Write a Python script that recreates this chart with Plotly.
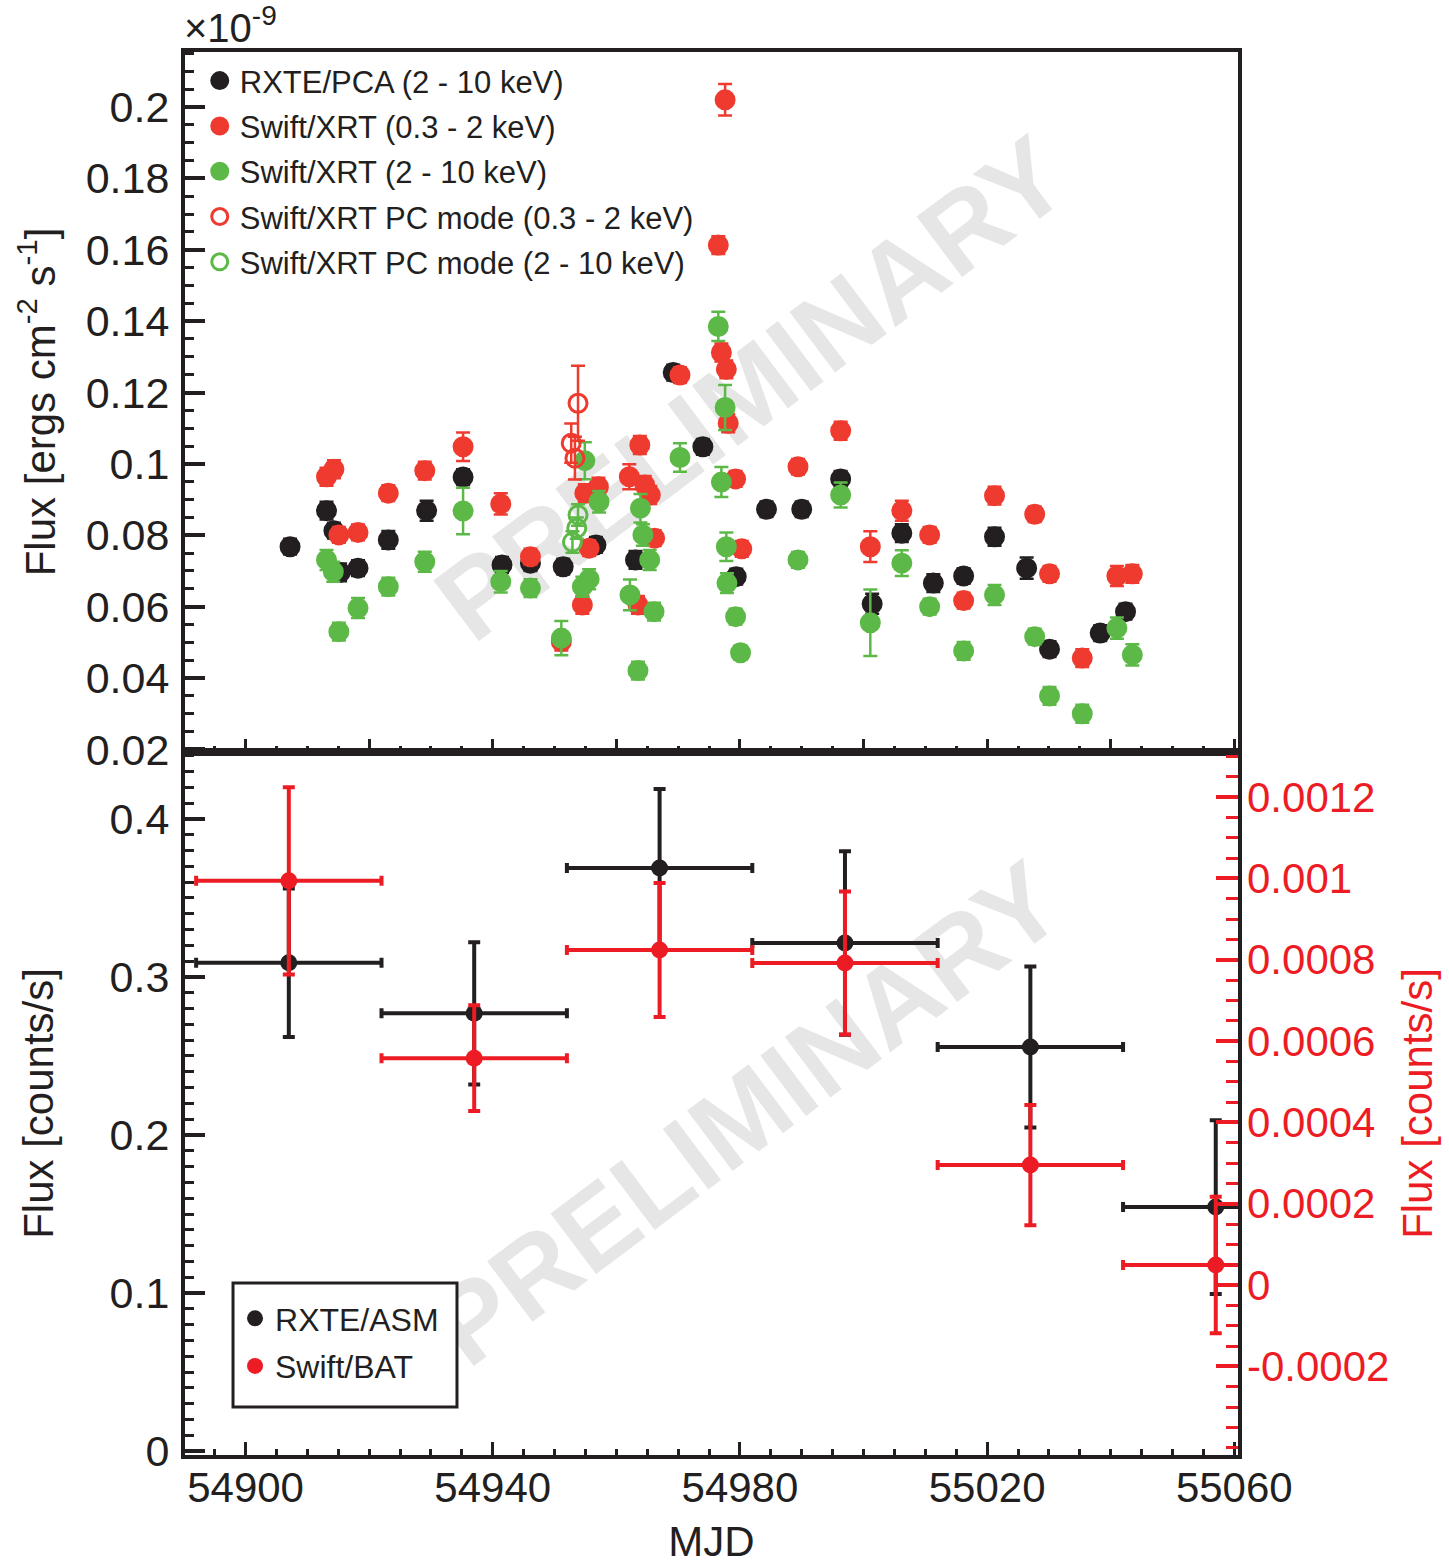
import plotly.graph_objects as go

# ---------------- top panel data (flux in 1e-9 erg/cm2/s) ----------------
pca_mjd = [54907.2, 54913.1, 54914.3, 54915.3, 54918.2, 54923.1, 54929.3, 54935.2, 54941.5,
           54946.1, 54951.4, 54956.7, 54963.1, 54969.2, 54974.0, 54979.4, 54984.3, 54990.0,
           54996.3, 55001.4, 55006.2, 55011.3, 55016.2, 55021.2, 55026.4, 55030.1, 55038.3, 55042.4]
pca_flux = [0.0768, 0.0869, 0.0813, 0.0696, 0.0708, 0.0787, 0.0869, 0.0963, 0.0717,
            0.0722, 0.0712, 0.0773, 0.0731, 0.1256, 0.1048, 0.0684, 0.0873, 0.0873,
            0.0958, 0.0608, 0.0806, 0.0666, 0.0686, 0.0796, 0.0708, 0.0481, 0.0526, 0.0586]
pca_err = [0.0022, 0.0025, 0.0022, 0.0025, 0.0022, 0.0025, 0.0028, 0.0022, 0.0022,
           0.0022, 0.0022, 0.0022, 0.0025, 0.0022, 0.0022, 0.0022, 0.0022, 0.0022,
           0.0022, 0.0028, 0.0025, 0.0025, 0.0022, 0.0025, 0.0030, 0.0022, 0.0022, 0.0022]

soft_mjd = [54913.1, 54914.3, 54915.1, 54918.2, 54923.1, 54929.0, 54935.2, 54941.3, 54946.1,
            54951.1, 54954.5, 54954.9, 54955.6, 54957.1, 54962.1, 54963.5, 54963.8, 54964.6,
            54965.5, 54966.2, 54970.3, 54976.5, 54977.0, 54977.6, 54977.8, 54978.1, 54979.3,
            54980.3, 54989.4, 54996.3, 55001.1, 55006.2, 55010.7, 55016.2, 55021.2, 55027.7,
            55030.1, 55035.4, 55041.0, 55043.5]
soft_flux = [0.0964, 0.0985, 0.0801, 0.0808, 0.0918, 0.0981, 0.1048, 0.0888, 0.0740,
             0.0502, 0.0605, 0.0918, 0.0764, 0.0936, 0.0964, 0.0605, 0.1053, 0.0941,
             0.0913, 0.0792, 0.1249, 0.1613, 0.1312, 0.2020, 0.1265, 0.1114, 0.0958,
             0.0762, 0.0992, 0.1093, 0.0768, 0.0869, 0.0801, 0.0617, 0.0911, 0.0859,
             0.0692, 0.0456, 0.0686, 0.0692]
soft_err = [0.0025, 0.0025, 0.0022, 0.0022, 0.0022, 0.0025, 0.0040, 0.0030, 0.0022,
            0.0025, 0.0025, 0.0025, 0.0022, 0.0025, 0.0035, 0.0025, 0.0025, 0.0025,
            0.0025, 0.0022, 0.0022, 0.0025, 0.0025, 0.0044, 0.0025, 0.0025, 0.0022,
            0.0022, 0.0022, 0.0025, 0.0043, 0.0028, 0.0022, 0.0022, 0.0025, 0.0022,
            0.0022, 0.0025, 0.0028, 0.0025]

hard_mjd = [54913.1, 54914.2, 54915.1, 54918.2, 54923.1, 54929.0, 54935.2, 54941.3, 54946.1,
            54951.1, 54954.5, 54954.9, 54955.6, 54957.2, 54962.2, 54963.5, 54963.9, 54964.3,
            54965.4, 54966.1, 54970.3, 54976.5, 54977.0, 54977.6, 54977.8, 54977.9, 54979.3,
            54980.1, 54989.4, 54996.3, 55001.1, 55006.2, 55010.7, 55016.2, 55021.2, 55027.7,
            55030.1, 55035.4, 55041.0, 55043.5]
hard_flux = [0.0731, 0.0698, 0.0530, 0.0596, 0.0656, 0.0726, 0.0868, 0.0670, 0.0652,
             0.0512, 0.0656, 0.1009, 0.0677, 0.0894, 0.0633, 0.0421, 0.0876, 0.0801,
             0.0731, 0.0586, 0.1018, 0.1385, 0.0949, 0.1158, 0.0768, 0.0666, 0.0572,
             0.0471, 0.0731, 0.0913, 0.0555, 0.0722, 0.0600, 0.0476, 0.0633, 0.0516,
             0.0350, 0.0300, 0.0540, 0.0465]
hard_err = [0.0028, 0.0028, 0.0025, 0.0028, 0.0025, 0.0028, 0.0065, 0.0030, 0.0025,
            0.0048, 0.0028, 0.0052, 0.0028, 0.0030, 0.0043, 0.0025, 0.0040, 0.0030,
            0.0028, 0.0025, 0.0040, 0.0041, 0.0042, 0.0063, 0.0040, 0.0028, 0.0022,
            0.0020, 0.0022, 0.0035, 0.0093, 0.0036, 0.0022, 0.0025, 0.0028, 0.0022,
            0.0025, 0.0025, 0.0030, 0.0030]

pc_soft_mjd = [54952.7, 54953.3, 54953.8]
pc_soft_flux = [0.1058, 0.1016, 0.1170]
pc_soft_err = [0.0055, 0.0060, 0.0105]

pc_hard_mjd = [54952.9, 54953.6, 54953.8]
pc_hard_flux = [0.0781, 0.0820, 0.0857]
pc_hard_err = [0.0030, 0.0030, 0.0030]

# ---------------- bottom panel data ----------------
bin_mjd = [54907, 54937, 54967, 54997, 55027, 55057]
bin_half = [15, 15, 15, 15, 15, 15]
asm_flux = [0.309, 0.277, 0.369, 0.3215, 0.2557, 0.1544]
asm_err = [0.047, 0.045, 0.050, 0.058, 0.051, 0.055]
bat_flux = [0.000994, 0.000558, 0.000824, 0.000792, 0.000295, 0.0000492]
bat_err = [0.00023, 0.00013, 0.000165, 0.000176, 0.000148, 0.000168]

# tick values / labels
x_all_ticks = [54900, 54920, 54940, 54960, 54980, 55000, 55020, 55040, 55060]
x_label_ticks = [54900, 54940, 54980, 55020, 55060]
x_labels = ["54900", "54940", "54980", "55020", "55060"]
x_mid_ticks = [54920, 54960, 55000, 55040]
y1_tickvals = [0.02, 0.04, 0.06, 0.08, 0.10, 0.12, 0.14, 0.16, 0.18, 0.20]
y1_ticktext = ["0.02", "0.04", "0.06", "0.08", "0.1", "0.12", "0.14", "0.16", "0.18", "0.2"]
y2_tickvals = [0, 0.1, 0.2, 0.3, 0.4]
y2_ticktext = ["0", "0.1", "0.2", "0.3", "0.4"]
y2_mid_ticks = [0.05, 0.15, 0.25, 0.35]
y3_tickvals = [-0.0002, 0, 0.0002, 0.0004, 0.0006, 0.0008, 0.001, 0.0012]
y3_ticktext = ["-0.0002", "0", "0.0002", "0.0004", "0.0006", "0.0008", "0.001", "0.0012"]

BLACK = "#231f20"
RED = "#ee3a2f"
GREEN = "#5db947"
RED2 = "#ed1c24"
WM = "#e6e6e6"
FONT = "Liberation Sans, Arial, Helvetica, sans-serif"

fig = go.Figure()


def top_trace(x, y, e, color, name, symbol="circle", group="g"):
    return go.Scatter(
        x=x, y=y, mode="markers", name=name, xaxis="x", yaxis="y",
        legendgroup=group,
        marker=dict(color=color, size=18, symbol=symbol, line=dict(color=color, width=3)),
        error_y=dict(type="data", array=e, color=color, thickness=2.5, width=7),
    )


fig.add_trace(top_trace(pca_mjd, pca_flux, pca_err, BLACK, "RXTE/PCA (2 - 10 keV)", group="a"))
fig.add_trace(top_trace(soft_mjd, soft_flux, soft_err, RED, "Swift/XRT (0.3 - 2 keV)", group="b"))
fig.add_trace(top_trace(hard_mjd, hard_flux, hard_err, GREEN, "Swift/XRT (2 - 10 keV)", group="c"))
fig.add_trace(top_trace(pc_soft_mjd, pc_soft_flux, pc_soft_err, RED,
                        "Swift/XRT PC mode (0.3 - 2 keV)", symbol="circle-open", group="d"))
fig.add_trace(top_trace(pc_hard_mjd, pc_hard_flux, pc_hard_err, GREEN,
                        "Swift/XRT PC mode (2 - 10 keV)", symbol="circle-open", group="e"))

fig.add_trace(go.Scatter(
    x=bin_mjd, y=asm_flux, mode="markers", name="RXTE/ASM", xaxis="x2", yaxis="y2",
    legend="legend2", legendgroup="asm",
    marker=dict(color=BLACK, size=17),
    error_x=dict(type="data", array=bin_half, color=BLACK, thickness=4, width=5),
    error_y=dict(type="data", array=asm_err, color=BLACK, thickness=4, width=6),
))
fig.add_trace(go.Scatter(
    x=bin_mjd, y=bat_flux, mode="markers", name="Swift/BAT", xaxis="x2", yaxis="y3",
    legend="legend2", legendgroup="bat",
    marker=dict(color=RED2, size=17),
    error_x=dict(type="data", array=bin_half, color=RED2, thickness=4, width=5),
    error_y=dict(type="data", array=bat_err, color=RED2, thickness=4, width=6),
))

XR = [54890.2, 55060.6]
Y2R = [-0.0025, 0.4424]
split = 0.5011

fig.update_layout(
    width=1449, height=1565,
    margin=dict(l=185, r=211, t=52, b=110, autoexpand=False),
    paper_bgcolor="white", plot_bgcolor="white",
    font=dict(family=FONT, color=BLACK, size=42),
    xaxis=dict(
        range=XR, anchor="y", domain=[0, 1], showticklabels=False,
        showline=True, linewidth=4, linecolor=BLACK, mirror=True,
        showgrid=False, zeroline=False, ticks="inside", ticklen=13, tickwidth=3, tickcolor=BLACK,
        tickmode="array", tickvals=x_all_ticks,
        minor=dict(ticks="inside", dtick=5, tick0=54900, ticklen=6, tickwidth=3, tickcolor=BLACK),
    ),
    xaxis2=dict(
        range=XR, anchor="y2", domain=[0, 1], showticklabels=True,
        showline=True, linewidth=4, linecolor=BLACK, mirror=True,
        showgrid=False, zeroline=False, ticks="inside", ticklen=13, tickwidth=3, tickcolor=BLACK,
        tickmode="array", tickvals=x_label_ticks, ticktext=x_labels,
        minor=dict(ticks="inside", dtick=5, tick0=54900, ticklen=6, tickwidth=3, tickcolor=BLACK),
        tickfont=dict(size=42, color=BLACK), ticklabelstandoff=-7,
        title=dict(text="MJD", font=dict(size=42, color=BLACK), standoff=38),
    ),
    xaxis3=dict(
        range=XR, anchor="y2", overlaying="x2", side="bottom", showticklabels=False,
        showline=False, showgrid=False, zeroline=False,
        ticks="inside", ticklen=13, tickwidth=3, tickcolor=BLACK,
        tickmode="array", tickvals=x_mid_ticks,
    ),
    yaxis=dict(
        domain=[split, 1], anchor="x", range=[0.0193, 0.2154],
        showline=True, linewidth=4, linecolor=BLACK, mirror=True,
        showgrid=False, zeroline=False, ticks="inside", ticklen=20, tickwidth=4, tickcolor=BLACK,
        tickmode="array", tickvals=y1_tickvals, ticktext=y1_ticktext,
        tickfont=dict(size=43, color=BLACK), ticklabelstandoff=3,
        minor=dict(ticks="inside", dtick=0.005, tick0=0, ticklen=9, tickwidth=3, tickcolor=BLACK),
        title=dict(text="Flux [ergs cm<sup>-2</sup> s<sup>-1</sup>]",
                   font=dict(size=42, color=BLACK), standoff=18),
    ),
    yaxis2=dict(
        domain=[0, split], anchor="x2", range=Y2R,
        showline=True, linewidth=4, linecolor=BLACK, mirror=True,
        showgrid=False, zeroline=False, ticks="inside", ticklen=20, tickwidth=4, tickcolor=BLACK,
        tickmode="array", tickvals=y2_tickvals, ticktext=y2_ticktext,
        tickfont=dict(size=43, color=BLACK), ticklabelstandoff=3,
        minor=dict(ticks="inside", dtick=0.01, tick0=0, ticklen=9, tickwidth=3, tickcolor=BLACK),
        title=dict(text="Flux [counts/s]", font=dict(size=42, color=BLACK), standoff=44),
    ),
    yaxis3=dict(
        overlaying="y2", side="right", anchor="x2", range=[-0.000418, 0.001311],
        showline=False, showgrid=False, zeroline=False,
        ticks="inside", ticklen=22, tickwidth=4, tickcolor=RED2,
        tickmode="array", tickvals=y3_tickvals, ticktext=y3_ticktext,
        tickfont=dict(size=42, color=RED2), ticklabelstandoff=8,
        minor=dict(ticks="inside", dtick=0.00005, tick0=0, ticklen=12, tickwidth=3, tickcolor=RED2),
        title=dict(text="Flux [counts/s]", font=dict(size=42, color=RED2), standoff=14),
    ),
    yaxis4=dict(
        overlaying="y2", side="left", anchor="x2", range=Y2R, showticklabels=False,
        showline=False, showgrid=False, zeroline=False,
        ticks="inside", ticklen=20, tickwidth=4, tickcolor=BLACK,
        tickmode="array", tickvals=y2_mid_ticks,
    ),
    legend=dict(
        x=0.014, y=0.9986, xanchor="left", yanchor="top",
        bgcolor="rgba(0,0,0,0)", borderwidth=0,
        font=dict(size=31, color=BLACK), traceorder="grouped", tracegroupgap=2,
        itemsizing="trace",
    ),
    legend2=dict(
        x=0.0475, y=0.1169, xanchor="left", yanchor="top",
        bgcolor="rgba(0,0,0,0)", borderwidth=0,
        font=dict(size=32, color=BLACK), traceorder="grouped", tracegroupgap=3,
        itemsizing="trace",
    ),
    annotations=[
        dict(text="×10<sup>-9</sup>", xref="paper", yref="paper", x=-0.003, y=1.0,
             xanchor="left", yanchor="bottom", showarrow=False,
             font=dict(size=40, color=BLACK)),
    ],
    shapes=[
        dict(type="rect", xref="x", yref="y", x0=54940.8, x1=55020.8, y0=0.0735, y1=0.1735,
             line=dict(width=0), fillcolor="rgba(0,0,0,0)", layer="below",
             label=dict(text="<b>PRELIMINARY</b>", textangle=-37, textposition="middle center",
                        font=dict(size=110, color=WM, family=FONT))),
        dict(type="rect", xref="x2", yref="y2", x0=54940, x1=55020, y0=0.089, y1=0.349,
             line=dict(width=0), fillcolor="rgba(0,0,0,0)", layer="below",
             label=dict(text="<b>PRELIMINARY</b>", textangle=-37, textposition="middle center",
                        font=dict(size=110, color=WM, family=FONT))),
        # bottom legend frame
        dict(type="rect", xref="paper", yref="paper", x0=0.0456, x1=0.2583, y0=0.0342, y1=0.1226,
             line=dict(width=3, color=BLACK), fillcolor="white", layer="above"),
    ],
)

fig.write_html("out.html")
